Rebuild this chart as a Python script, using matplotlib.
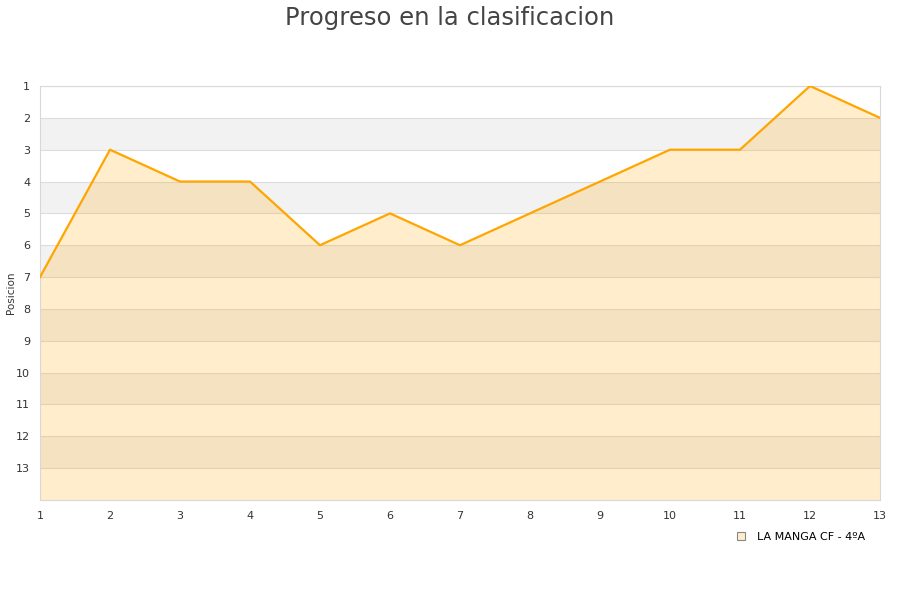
import matplotlib
matplotlib.use('Agg')
import matplotlib.pyplot as plt
from matplotlib.lines import Line2D

jornadas = [1, 2, 3, 4, 5, 6, 7, 8, 9, 10, 11, 12, 13]
posicion = [7, 3, 4, 4, 6, 5, 6, 5, 4, 3, 3, 1, 2]
equipo = 'LA MANGA CF - 4ºA'
n_equipos = 14

fig = plt.figure(figsize=(9, 6), dpi=100)
ax = fig.add_axes([40 / 900, 1 - 500 / 600, 840 / 900, 414 / 600])

# alternating bands
for k in range(1, n_equipos):
    if k % 2 == 0:
        ax.axhspan(k, k + 1, color='#f2f2f2', zorder=0, lw=0)
    ax.axhline(k, color='#dddddd', lw=0.8, zorder=1)

ax.fill_between(jornadas, posicion, n_equipos, color='#ffa500', alpha=0.2, lw=0, zorder=2)
ax.plot(jornadas, posicion, color='#ffa500', lw=1.6, zorder=3)

ax.set_xlim(1, 13)
ax.set_ylim(n_equipos, 1)
ax.set_xticks(jornadas)
ax.set_yticks(range(1, n_equipos))
ax.tick_params(length=0, labelsize=8, colors='#333333')
ax.tick_params(axis='y', pad=7)
ax.tick_params(axis='x', pad=8)
for s in ax.spines.values():
    s.set_color('#d8d8d8')
ax.set_ylabel('Posicion', fontsize=7.5, color='#333333')
ax.yaxis.set_label_coords(-24 / 840, 0.5)

fig.suptitle('Progreso en la clasificacion', fontsize=17.5, color='#444444', y=0.99)

h = Line2D([], [], marker='s', ls='', markersize=6, markerfacecolor='#ffedcc',
           markeredgecolor='#888888', markeredgewidth=0.8)
fig.legend([h], [equipo], loc='upper right', bbox_to_anchor=(0.972, 0.13),
           frameon=False, fontsize=8, handletextpad=0.4)

fig.savefig('out.png', dpi=100)
